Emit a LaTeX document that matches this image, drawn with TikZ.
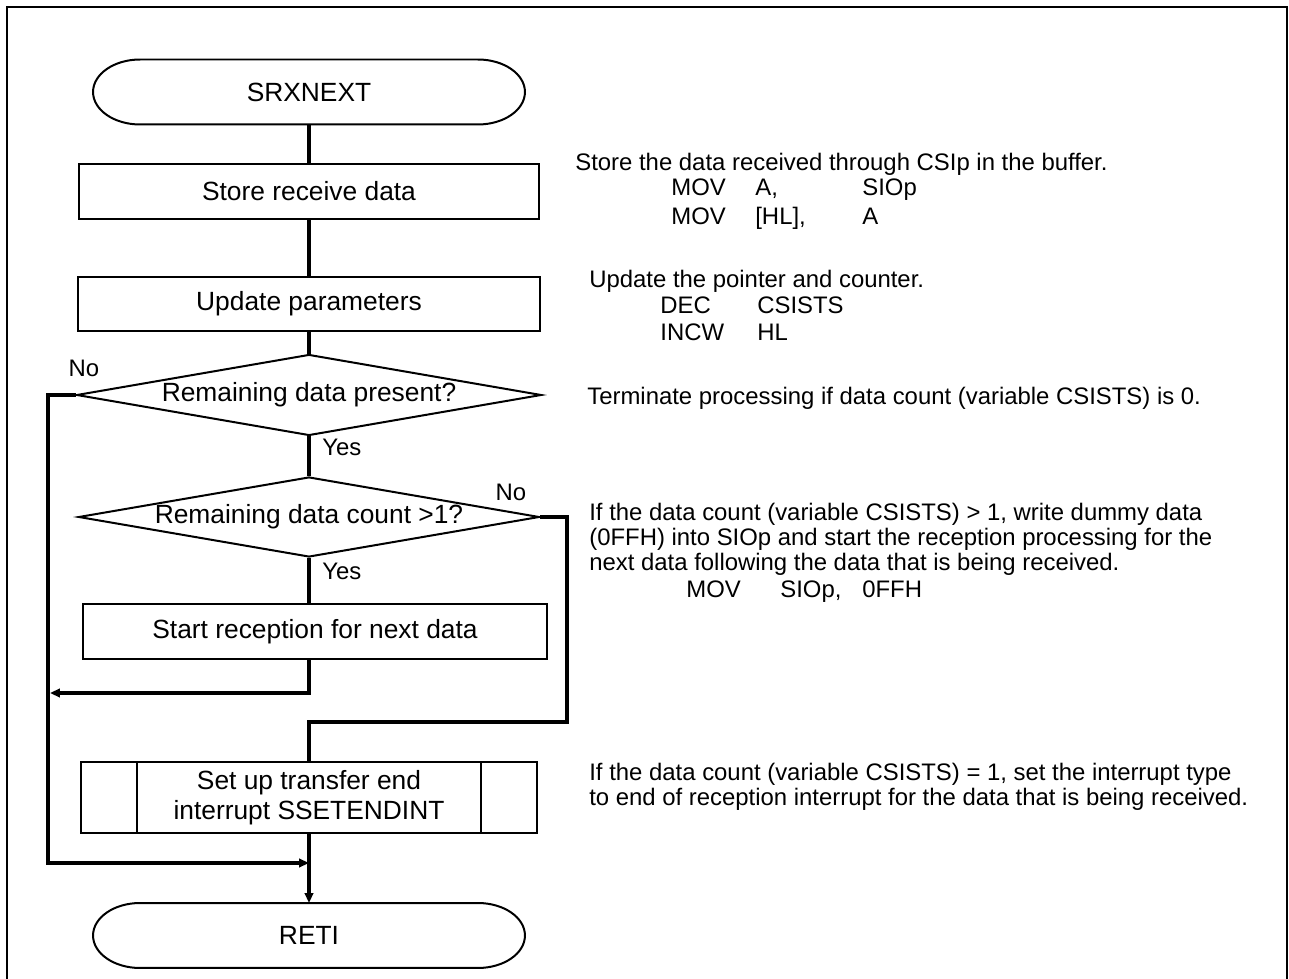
\documentclass[tikz,border=0pt]{standalone}
\usepackage{fontspec}
\setmainfont{Liberation Sans}
\usetikzlibrary{arrows.meta,shapes.geometric}
\newcommand{\boxfont}{\fontsize{15pt}{17pt}\selectfont}
\newcommand{\notefont}{\fontsize{13.6pt}{14.5pt}\selectfont}

\begin{document}
\begin{tikzpicture}[
  x=0.02cm,y=-0.02cm,
  >={Triangle[length=0.2cm,width=0.17cm]},
  flow/.style={line width=0.065cm,black},
  outline/.style={line width=0.04cm,black},
  procbox/.style={draw,outline,minimum width=9.2cm,minimum height=1.1cm,inner sep=0pt,font=\boxfont},
  decision/.style={diamond,draw,outline,inner sep=0pt,shape aspect=5.6,minimum width=9.3cm,minimum height=1.62cm,font=\boxfont},
  terminal/.style={minimum width=8.64cm,minimum height=1.3cm,inner sep=0pt,outer sep=0pt,font=\boxfont},
  note/.style={anchor=base west,inner sep=0pt,font=\notefont,align=left},
  lbl/.style={inner sep=0pt,font=\notefont}
]
  \useasboundingbox (0,0) rectangle (1289,979);
  \draw[line width=0.055cm] (7,979) -- (7,7) -- (1287,7) -- (1287,979);

  \node[terminal] (start) at (309,92) {SRXNEXT};
  \node[procbox] (store) at (309,191.5) {Store receive data};
  \node[procbox,minimum width=9.24cm,minimum height=1.08cm] (update) at (309,304) {Update parameters};
  \node[decision] (present) at (309,395) {Remaining data present?};
  \node[decision,minimum width=9.22cm,minimum height=1.6cm] (count) at (309,517) {Remaining data count >1?};
  \node[procbox,minimum width=9.28cm] (nextrx) at (315,631.5) {Start reception for next data};
  \node[procbox,minimum width=9.12cm,minimum height=1.42cm,align=center] (setend) at (309,797.5)
    {Set up transfer end\\interrupt SSETENDINT};
  \node[terminal] (reti) at (309,935.5) {RETI};

  \draw[outline] ([xshift=0.94cm]start.north west) -- ([xshift=-0.94cm]start.north east)
    arc[start angle=90,end angle=-90,x radius=0.94cm,y radius=0.65cm]
    -- ([xshift=0.94cm]start.south west)
    arc[start angle=270,end angle=90,x radius=0.94cm,y radius=0.65cm] -- cycle;
  \draw[outline] ([xshift=0.94cm]reti.north west) -- ([xshift=-0.94cm]reti.north east)
    arc[start angle=90,end angle=-90,x radius=0.94cm,y radius=0.65cm]
    -- ([xshift=0.94cm]reti.south west)
    arc[start angle=270,end angle=90,x radius=0.94cm,y radius=0.65cm] -- cycle;
  \draw[outline] ([xshift=1.14cm]setend.north west) -- ([xshift=1.14cm]setend.south west)
    ([xshift=-1.14cm]setend.north east) -- ([xshift=-1.14cm]setend.south east);

  \coordinate (back) at (50,693);
  \coordinate (rail) at (48,863);
  \coordinate (merge) at (309,863);
  \coordinate (turn) at (567,722);

  \draw[flow] (start) -- (store);
  \draw[flow] (store) -- (update);
  \draw[flow] (update) -- (present);
  \draw[flow] (present) -- (count);
  \draw[flow] (count.south) -- (count.south |- nextrx.north);
  \draw[flow,->] (nextrx.south -| count.south) |- (back);
  \draw[flow,->] (present.west) -| (rail) -- (merge);
  \draw[flow] (count.east) -| (turn) -| (setend.north);
  \draw[flow,->] (setend) -- (reti);

  \node[lbl,anchor=west] (yes1) at (322,447) {Yes};
  \node[lbl,anchor=west] (yes2) at (322,571) {Yes};
  \node[lbl] (no1) at (84,368) {No};
  \node[lbl] (no2) at (511,492) {No};

  \node[note] (c1) at (575,171) {Store the data received through CSIp in the buffer.};
  \node[note] (c1a) at (671,196) {MOV};
  \node[note] (c1b) at (755,196) {A,};
  \node[note] (c1c) at (862,196) {SIOp};
  \node[note] (c1d) at (671,225) {MOV};
  \node[note] (c1e) at (755,225) {[HL],};
  \node[note] (c1f) at (862,225) {A};
  \node[note] (c2) at (589,288) {Update the pointer and counter.};
  \node[note] (c2a) at (660,314) {DEC};
  \node[note] (c2b) at (757,314) {CSISTS};
  \node[note] (c2c) at (660,341) {INCW};
  \node[note] (c2d) at (757,341) {HL};
  \node[note] (c3) at (587,405) {Terminate processing if data count (variable CSISTS) is 0.};
  \node[note] (c4) at (589,571) {If the data count (variable CSISTS) > 1, write dummy data\\(0FFH) into SIOp and start the reception processing for the\\next data following the data that is being received.};
  \node[note] (c4a) at (686,598) {MOV};
  \node[note] (c4b) at (780,598) {SIOp,};
  \node[note] (c4c) at (862,598) {0FFH};
  \node[note] (c5) at (589,806) {If the data count (variable CSISTS) = 1, set the interrupt type\\to end of reception interrupt for the data that is being received.};
\end{tikzpicture}
\end{document}
